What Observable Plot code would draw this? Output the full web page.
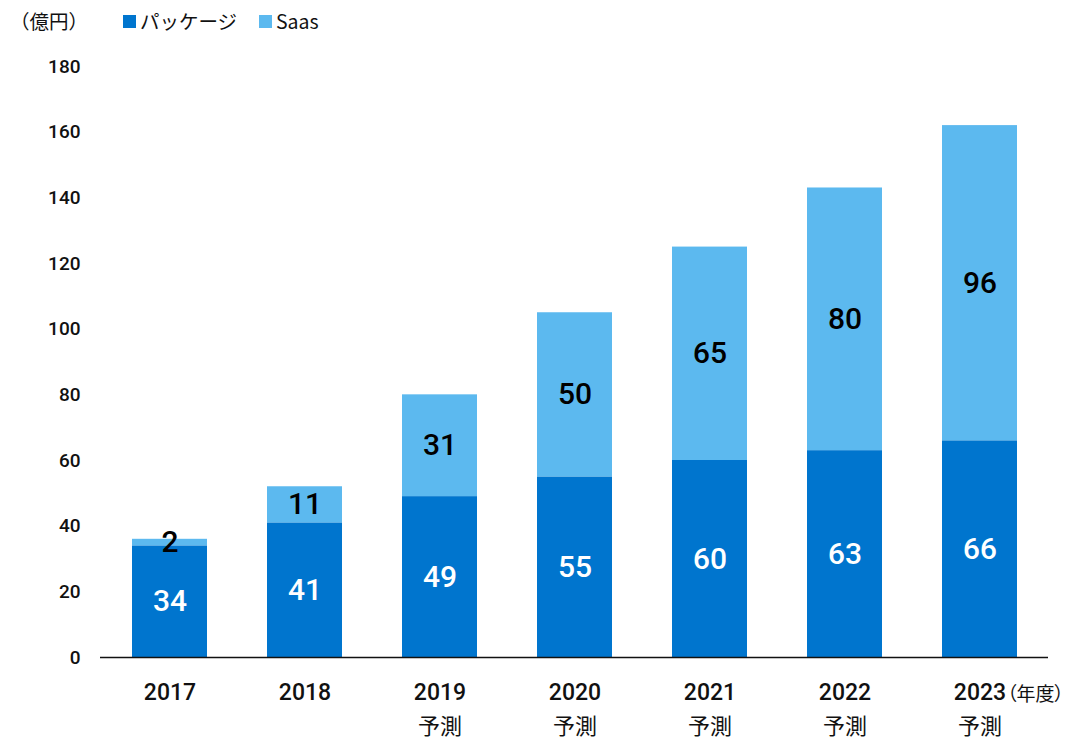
<!DOCTYPE html>
<html>
<head>
<meta charset="utf-8">
<script src="https://cdn.jsdelivr.net/npm/d3@7"></script>
<script src="https://cdn.jsdelivr.net/npm/@observablehq/plot@0.6"></script>
<style>
  html, body { margin: 0; padding: 0; background: #fff; }
  body { width: 1073px; height: 738px; overflow: hidden; font-family: Roboto, "Noto Sans CJK JP", sans-serif; }
  #legend { position: relative; height: 45px; font-family: "Noto Sans CJK JP", sans-serif; font-size: 19.5px; color: #111; }
  #legend span { position: absolute; top: 8px; line-height: 26px; white-space: nowrap; }
  #legend .sw { width: 13px; height: 13px; top: 15px; }
</style>
</head>
<body>
<div id="legend"></div>
<div id="chart"></div>
<script>
const years = ["2017", "2018", "2019", "2020", "2021", "2022", "2023"];
const forecast = [false, false, true, true, true, true, true];
const packageValues = [34, 41, 49, 55, 60, 63, 66];
const saasValues = [2, 11, 31, 50, 65, 80, 96];
const seriesNames = ["パッケージ", "Saas"];
const seriesColors = ["#0075CE", "#5CB9EF"];
const labelColors = ["#ffffff", "#000000"];
const yTicks = [0, 20, 40, 60, 80, 100, 120, 140, 160, 180];
const unitLabel = "（億円）";
const yearUnit = "（年度）";
const forecastLabel = "予測";

const data = [];
seriesNames.forEach((s, si) => {
  const vals = si === 0 ? packageValues : saasValues;
  years.forEach((y, i) => data.push({year: y, series: s, value: vals[i]}));
});
const forecastYears = years.filter((y, i) => forecast[i]);

// legend
const legend = document.getElementById("legend");
legend.innerHTML = `
  <span style="left:10px">${unitLabel}</span>
  <span class="sw" style="left:123px;background:${seriesColors[0]}"></span>
  <span style="left:140px">${seriesNames[0]}</span>
  <span class="sw" style="left:259px;background:${seriesColors[1]}"></span>
  <span style="left:276px">${seriesNames[1]}</span>`;

const numFont = 'Roboto, "Noto Sans CJK JP", sans-serif';
const jpFont = '"Noto Sans CJK JP", sans-serif';

const chart = Plot.plot({
  width: 1073,
  height: 693,
  marginTop: 21,
  marginBottom: 81,
  marginLeft: 100,
  marginRight: 25,
  style: {fontFamily: numFont, color: "#111", background: "#fff"},
  x: {domain: years, paddingInner: 0.446, paddingOuter: 0.229, label: null},
  y: {domain: [0, 180], ticks: yTicks, label: null},
  color: {domain: seriesNames, range: seriesColors},
  marks: [
    Plot.barY(data, {x: "year", y: "value", fill: "series", order: seriesNames}),
    Plot.ruleY([0], {stroke: "#111", strokeWidth: 1.5}),
    Plot.axisY({ticks: yTicks, tickSize: 0, tickPadding: 20, fontSize: 19, fontWeight: 500, label: null}),
    Plot.axisX({tickSize: 0, tickPadding: 26, fontSize: 23, fontWeight: 500, label: null}),
    Plot.text(forecastYears, {x: d => d, y: () => 0, dy: 69, text: () => forecastLabel,
      fontSize: 22, fontFamily: jpFont, fill: "#111"}),
    Plot.text([yearUnit], {x: () => years[years.length - 1], y: () => 0, dx: 27, dy: 37, textAnchor: "start",
      fontSize: 19, fontFamily: jpFont, fill: "#111"}),
    Plot.text(data, Plot.stackY({x: "year", y: "value", z: "series", order: seriesNames, text: "value",
      fill: d => labelColors[seriesNames.indexOf(d.series)], fontSize: 30, fontWeight: 500}))
  ]
});
chart.querySelectorAll("text").forEach(t => {
  if (t.textContent === yearUnit) t.style.fontFeatureSettings = '"palt"';
});
document.getElementById("chart").appendChild(chart);
</script>
</body>
</html>
